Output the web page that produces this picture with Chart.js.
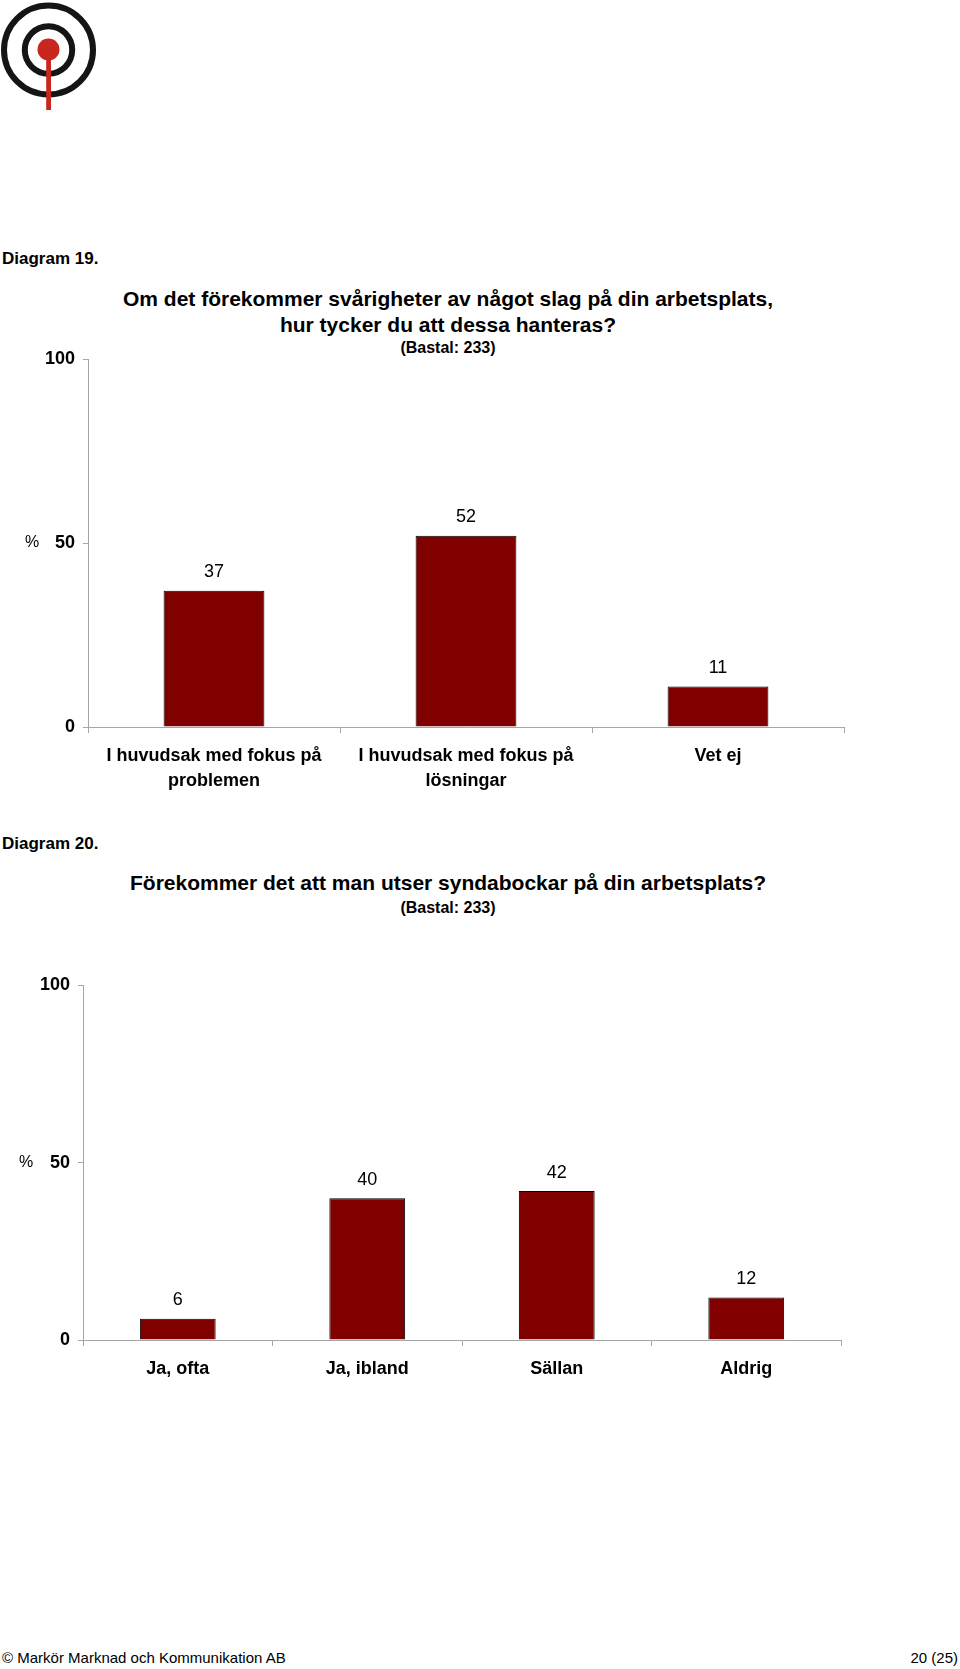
<!DOCTYPE html>
<html lang="sv">
<head>
<meta charset="utf-8">
<title>Diagram 19–20</title>
<script src="https://cdn.jsdelivr.net/npm/chart.js@4.4.1/dist/chart.umd.min.js"></script>
<style>
  html, body { margin: 0; padding: 0; background: #fff; }
  body {
    width: 960px; height: 1669px; position: relative; overflow: hidden;
    font-family: "Liberation Sans", Arial, sans-serif; color: #000;
  }
  .t { position: absolute; white-space: nowrap; line-height: 1.15; transform: translateY(-50%); }
  .mid { left: 0; width: 896px; text-align: center; }
  .b { font-weight: bold; }
  .box { position: absolute; left: 0; width: 960px; }
  #logo { position: absolute; left: 0; top: 0; }
</style>
</head>
<body>

<svg id="logo" width="100" height="114" viewBox="0 0 100 114">
  <circle cx="48.5" cy="50" r="44.5" fill="none" stroke="#151515" stroke-width="6"/>
  <circle cx="48.5" cy="50" r="23.7" fill="none" stroke="#151515" stroke-width="6"/>
  <rect x="46.2" y="55" width="4.8" height="55" fill="#c8261f"/>
  <circle cx="48.5" cy="49.5" r="11" fill="#c8261f"/>
</svg>

<div class="t b" style="left:2px; top:259px; font-size:17px;">Diagram 19.</div>
<div class="t b mid" style="top:299px; font-size:21px;">Om det förekommer svårigheter av något slag på din arbetsplats,</div>
<div class="t b mid" style="top:325px; font-size:21px;">hur tycker du att dessa hanteras?</div>
<div class="t b mid" style="top:348px; font-size:16px;">(Bastal: 233)</div>
<div class="box" style="top:330px; height:470px;"><canvas id="chart19"></canvas></div>

<div class="t b" style="left:2px; top:844px; font-size:17px;">Diagram 20.</div>
<div class="t b mid" style="top:883px; font-size:21px;">Förekommer det att man utser syndabockar på din arbetsplats?</div>
<div class="t b mid" style="top:908px; font-size:16px;">(Bastal: 233)</div>
<div class="box" style="top:950px; height:460px;"><canvas id="chart20"></canvas></div>

<div class="t" style="left:2px; top:1658px; font-size:15px;">© Markör Marknad och Kommunikation AB</div>
<div class="t" style="right:2px; top:1658px; font-size:15px;">20 (25)</div>

<script>
  // Diagram 19
  const categories19 = [["I huvudsak med fokus på", "problemen"], ["I huvudsak med fokus på", "lösningar"], "Vet ej"];
  const values19 = [37, 52, 11];

  // Diagram 20
  const categories20 = ["Ja, ofta", "Ja, ibland", "Sällan", "Aldrig"];
  const values20 = [6, 40, 42, 12];

  const yTicks = [0, 50, 100];

  const FONT = "'Liberation Sans', Arial, sans-serif";
  const BAR = "#800000";
  const AXIS = "#a6a6a6";

  const valueLabels = {
    id: "valueLabels",
    afterDatasetsDraw(chart) {
      const ctx = chart.ctx;
      const data = chart.data.datasets[0].data;
      ctx.save();
      ctx.font = "18px " + FONT;
      ctx.fillStyle = "#000";
      ctx.textAlign = "center";
      ctx.textBaseline = "middle";
      chart.getDatasetMeta(0).data.forEach((bar, i) => {
        ctx.fillText(String(data[i]), bar.x, bar.y - 18.5);
      });
      ctx.restore();
    }
  };

  const percentMark = {
    id: "percentMark",
    afterDraw(chart, args, opts) {
      const ctx = chart.ctx;
      ctx.save();
      ctx.font = "16px " + FONT;
      ctx.fillStyle = "#000";
      ctx.textAlign = "center";
      ctx.textBaseline = "middle";
      ctx.fillText("%", opts.x, chart.scales.y.getPixelForValue(50));
      ctx.restore();
    }
  };

  function barChart(id, labels, values, lay) {
    return new Chart(document.getElementById(id), {
      type: "bar",
      data: {
        labels: labels,
        datasets: [{
          data: values,
          backgroundColor: BAR,
          borderColor: "#000",
          borderWidth: 1,
          borderSkipped: "start",
          categoryPercentage: 1,
          barPercentage: 0.4
        }]
      },
      options: {
        responsive: true,
        maintainAspectRatio: false,
        animation: false,
        layout: { padding: { top: lay.top, left: 0, right: lay.right, bottom: 0 } },
        plugins: {
          legend: { display: false },
          tooltip: { enabled: false },
          percentMark: { x: lay.pctX }
        },
        scales: {
          x: {
            grid: { offset: true, drawOnChartArea: false, tickLength: 6, color: AXIS },
            border: { color: AXIS },
            ticks: { color: "#000", font: { family: FONT, size: 18, weight: "bold", lineHeight: 1.4 }, padding: 10, maxRotation: 0, autoSkip: false },
            afterFit: (s) => { s.height = lay.xh; }
          },
          y: {
            min: 0,
            max: 100,
            afterBuildTicks: (s) => { s.ticks = yTicks.map((v) => ({ value: v })); },
            grid: { drawOnChartArea: false, tickLength: 5, color: AXIS },
            border: { color: AXIS },
            ticks: { color: "#000", font: { family: FONT, size: 18, weight: "bold" }, padding: 8 },
            afterFit: (s) => { s.width = lay.yw; }
          }
        }
      },
      plugins: [valueLabels, percentMark]
    });
  }

  barChart("chart19", categories19, values19, { top: 29, right: 116, xh: 73, yw: 88, pctX: 32 });
  barChart("chart20", categories20, values20, { top: 35.5, right: 119, xh: 70, yw: 83, pctX: 26 });
</script>
</body>
</html>
